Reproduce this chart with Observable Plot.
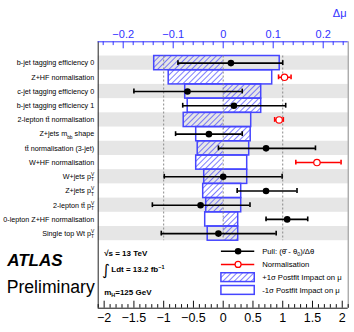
<!DOCTYPE html>
<html><head><meta charset="utf-8">
<script src="https://cdn.jsdelivr.net/npm/d3@7"></script>
<script src="https://cdn.jsdelivr.net/npm/@observablehq/plot@0.6"></script>
<style>body{margin:0;background:#fff}</style>
</head><body><div id="chart"></div>
<script>
// ---- data ----
const labels = [
  "b-jet tagging efficiency 0",
  "Z+HF normalisation",
  "c-jet tagging efficiency 0",
  "b-jet tagging efficiency 1",
  "2-lepton tt\u0304 normalisation",
  "Z+jets m_{bb} shape",
  "tt\u0304 normalisation (3-jet)",
  "W+HF normalisation",
  "W+jets p_{T}^{V}",
  "Z+jets p_{T}^{V}",
  "2-lepton tt\u0304 p_{T}^{V}",
  "0-lepton Z+HF normalisation",
  "Single top Wt p_{T}^{V}"
];
// postfit impact on mu (delta mu)
const impactPlus  = [-0.138, -0.109, 0.076, 0.076, -0.079, 0.055, -0.051, -0.054, -0.038, -0.040, -0.034, 0.030, 0.030];
const impactMinus = [ 0.113,  0.098, -0.076, -0.071, 0.056, -0.054, 0.052, 0.048, 0.048, 0.036, 0.036, -0.036, -0.031];
// pulls (black)
const pull     = [0.13, null, -0.60, 0.18, null, -0.24, 0.72, null, 0.00, 0.72, -0.38, 1.075, -0.08];
const pullLow  = [-0.76, null, -1.50, -0.68, null, -0.80, -0.08, null, -0.99, 0.235, -1.19, 0.72, -1.04];
const pullHigh = [1.00, null, 0.32, 1.05, null, 0.32, 1.55, null, 0.99, 1.24, 0.45, 1.42, 0.89];
// normalisation factors (red)
const norm     = [null, 1.03, null, null, 0.94, null, null, 1.575, null, null, null, null, null];
const normLow  = [null, 0.93, null, null, 0.865, null, null, 1.22, null, null, null, null, null];
const normHigh = [null, 1.14, null, null, 1.01, null, null, 1.98, null, null, null, null, null];

const bottomTicks = [-2, -1.5, -1, -0.5, 0, 0.5, 1, 1.5, 2];
const topTicks = [-0.2, -0.1, 0, 0.1, 0.2];
const legendText = ["Pull: (\u03b8\u0302 - \u03b8_{0})/\u0394\u03b8", "Normalisation", "+1\u03c3 Postfit Impact on \u03bc", "-1\u03c3 Postfit Impact on \u03bc"];
const infoText = ["\u221as = 13 TeV", "Ldt = 13.2 fb^{\u22121}", "m_{H}=125 GeV"];

// ---- layout ----
const W = 354, H = 332;
const mt = 41.3, mb = 24.3, ml = 97.7, mr = 6.3;
const xDom = [-2.1, 2.1];
const yDom = [-1, 17.75];
const muRange = 0.25;                  // top axis spans -0.25..0.25
const k = xDom[1] / muRange;           // delta-mu -> pull units
const pxY = (yDom[1] - yDom[0]) / (H - mt - mb);
const blue = "#3232ff";
const boxBlue = "#4646ff";
const fmt = d => (d < 0 ? "\u2212" : "") + Math.abs(d);

const rows = labels.map((label, i) => ({
  i, label, plus: impactPlus[i], minus: impactMinus[i],
  pull: pull[i], lo: pullLow[i], hi: pullHigh[i],
  norm: norm[i], nlo: normLow[i], nhi: normHigh[i]
}));
const pullRows = rows.filter(r => r.pull != null);
const normRows = rows.filter(r => r.norm != null);
const cap = 0.17;

const topMinor = d3.range(-12, 13).map(j => j * 0.02).filter(v => Math.abs(Math.round(v * 100) % 10) !== 0);
const bottomMinor = d3.range(-21, 22).map(j => j / 10).filter(v => Math.abs(Math.round(v * 10) % 5) !== 0);

const legY = [13.74, 14.67, 15.6, 16.5];
const legX1 = -0.03, legX2 = 0.53, legTx = 0.655, legBoxH = 0.31;

const chart = Plot.plot({
  width: W, height: H,
  marginTop: mt, marginBottom: mb, marginLeft: ml, marginRight: mr,
  style: {fontFamily: "'Liberation Sans', Arial, Helvetica, sans-serif", background: "#fff", overflow: "visible"},
  x: {domain: xDom, axis: null},
  y: {domain: yDom, reverse: true, axis: null},
  marks: [
    // alternating bands
    Plot.rect(rows.filter(r => r.i % 2 === 0), {x1: xDom[0], x2: xDom[1], y1: "i", y2: d => d.i + 1, fill: "#e6e6e6"}),
    // +1 sigma hatched impacts
    Plot.rect(rows, {x1: 0, x2: d => d.plus * k, y1: "i", y2: d => d.i + 1, fill: "url(#hatch)"}),
    // outline of impact boxes
    Plot.rect(rows, {x1: d => Math.min(d.plus, d.minus) * k, x2: d => Math.max(d.plus, d.minus) * k,
      y1: "i", y2: d => d.i + 1, fill: "none", stroke: boxBlue, strokeWidth: 1.5}),
    // dotted guide lines
    Plot.ruleX([-1, 0, 1], {y1: 0, y2: rows.length, stroke: "#8a8a8a", strokeDasharray: "2,2", strokeWidth: 1}),
    // pulls
    Plot.ruleY(pullRows, {x1: "lo", x2: "hi", y: d => d.i + 0.5, stroke: "black", strokeWidth: 1.6}),
    Plot.ruleX(pullRows.flatMap(d => [{x: d.lo, i: d.i}, {x: d.hi, i: d.i}]), {x: "x", y1: d => d.i + 0.5 - cap, y2: d => d.i + 0.5 + cap, stroke: "black", strokeWidth: 1.6}),
    Plot.dot(pullRows, {x: "pull", y: d => d.i + 0.5, r: 3.3, fill: "black"}),
    // normalisations
    Plot.ruleY(normRows, {x1: "nlo", x2: "nhi", y: d => d.i + 0.5, stroke: "#ff0000", strokeWidth: 1.6}),
    Plot.ruleX(normRows.flatMap(d => [{x: d.nlo, i: d.i}, {x: d.nhi, i: d.i}]), {x: "x", y1: d => d.i + 0.5 - cap, y2: d => d.i + 0.5 + cap, stroke: "#ff0000", strokeWidth: 1.6}),
    Plot.dot(normRows, {x: "norm", y: d => d.i + 0.5, r: 3.2, fill: "white", stroke: "#ff0000", strokeWidth: 1.2}),
    // row labels
    Plot.text(rows, {y: d => d.i + 0.5, text: "label", frameAnchor: "left", dx: -4, textAnchor: "end", fontSize: 7.2}),
    // frame
    Plot.ruleX([xDom[0]], {y1: yDom[0], y2: yDom[1], stroke: "#222", strokeWidth: 1}),
    Plot.ruleX([xDom[1]], {y1: yDom[0], y2: yDom[1], stroke: "#888", strokeWidth: 1}),
    Plot.ruleY([yDom[0]], {x1: xDom[0], x2: xDom[1], stroke: blue, strokeWidth: 1}),
    Plot.ruleY([yDom[1]], {x1: xDom[0], x2: xDom[1], stroke: "#111", strokeWidth: 1}),
    // top (delta mu) axis ticks
    Plot.ruleX(topTicks, {x: d => d * k, y1: yDom[0], y2: yDom[0] + 7 * pxY, stroke: blue, strokeWidth: 1}),
    Plot.ruleX(topMinor, {x: d => d * k, y1: yDom[0], y2: yDom[0] + 3.8 * pxY, stroke: blue, strokeWidth: 1}),
    Plot.text(topTicks, {x: d => d * k, text: d => d === 0 ? "0" : fmt(d), frameAnchor: "top", dy: -11.6, fill: blue, fontSize: 11}),
    Plot.text(["\u0394\u03bc"], {x: 0.233 * k, text: d => d, frameAnchor: "top", dy: -33, fill: blue, fontSize: 11}),
    // bottom axis
    Plot.ruleX(bottomTicks, {x: d => d, y1: yDom[1], y2: yDom[1] - 7 * pxY, stroke: "#111", strokeWidth: 1}),
    Plot.ruleX(bottomMinor, {x: d => d, y1: yDom[1], y2: yDom[1] - 3.6 * pxY, stroke: "#111", strokeWidth: 1}),
    Plot.text(bottomTicks, {x: d => d, text: fmt, frameAnchor: "bottom", dy: 14, fontSize: 12.5}),
    // legend (inside frame)
    Plot.ruleY([legY[0]], {x1: legX1, x2: legX2, stroke: "black", strokeWidth: 1.6}),
    Plot.dot([legY[0]], {x: (legX1 + legX2) / 2, y: d => d, r: 3.3, fill: "black"}),
    Plot.ruleY([legY[1]], {x1: legX1, x2: legX2, stroke: "#ff0000", strokeWidth: 1.6}),
    Plot.dot([legY[1]], {x: (legX1 + legX2) / 2, y: d => d, r: 3.0, fill: "white", stroke: "#ff0000", strokeWidth: 1.2}),
    Plot.rect([legY[2]], {x1: legX1, x2: legX2, y1: d => d - legBoxH, y2: d => d + legBoxH, fill: "url(#hatch)", stroke: boxBlue, strokeWidth: 1.5}),
    Plot.rect([legY[3]], {x1: legX1, x2: legX2, y1: d => d - legBoxH, y2: d => d + legBoxH, fill: "none", stroke: boxBlue, strokeWidth: 1.5}),
    Plot.text(legendText, {x: legTx, y: (d, i) => legY[i], text: d => d, textAnchor: "start", fontSize: 7.7}),
    // info text
    Plot.text([infoText[0]], {x: -2.0, y: 13.91, text: d => d, textAnchor: "start", fontSize: 8, fontWeight: "bold"}),
    Plot.text(["\u222b"], {x: -2.03, y: 15.1, text: d => d, textAnchor: "start", fontSize: 15, fontFamily: "DejaVu Sans"}),
    Plot.text([infoText[1]], {x: -1.88, y: 15.04, text: d => d, textAnchor: "start", fontSize: 8, fontWeight: "bold"}),
    Plot.text([infoText[2]], {x: -2.0, y: 16.62, text: d => d, textAnchor: "start", fontSize: 8, fontWeight: "bold"}),
    // ATLAS Preliminary
    Plot.text(["ATLAS"], {y: 14.38, text: d => d, frameAnchor: "left", dx: -91, textAnchor: "start", fontSize: 17, fontWeight: "bold", fontStyle: "italic"}),
    Plot.text(["Preliminary"], {y: 16.3, text: d => d, frameAnchor: "left", dx: -91.5, textAnchor: "start", fontSize: 17.6})
  ]
});

d3.select(chart).insert("defs", ":first-child").html(
  `<pattern id="hatch" patternUnits="userSpaceOnUse" width="4" height="4" patternTransform="rotate(45)">` +
  `<line x1="0" y1="0" x2="0" y2="4" stroke="${blue}" stroke-width="1.25"/></pattern>`);

document.getElementById("chart").appendChild(chart);

// rich text: _{sub} and ^{sup}
function richify(svg) {
  d3.select(svg).selectAll("text").each(function () {
    const el = this;
    const s = el.textContent;
    if (!/[_^]\{/.test(s)) return;
    const fs = parseFloat(getComputedStyle(el).fontSize) || 8;
    const re = /([_^])\{([^}]*)\}/g;
    const segs = []; let last = 0, m;
    while ((m = re.exec(s))) {
      if (m.index > last) segs.push({t: s.slice(last, m.index), k: 0});
      segs.push({t: m[2], k: m[1] === "_" ? 1 : -1});
      last = re.lastIndex;
    }
    if (last < s.length) segs.push({t: s.slice(last), k: 0});
    el.textContent = "";
    let cur = 0, prev = null;
    segs.forEach(seg => {
      const ts = document.createElementNS("http://www.w3.org/2000/svg", "tspan");
      const target = seg.k === 1 ? 0.32 * fs : seg.k === -1 ? -0.4 * fs : 0;
      ts.setAttribute("dy", (target - cur).toFixed(2));
      cur = target;
      if (seg.k) ts.setAttribute("font-size", (0.68 * fs).toFixed(2));
      ts.textContent = seg.t;
      el.appendChild(ts);
      if (seg.k && prev) ts.setAttribute("dx", (-prev.getComputedTextLength()).toFixed(2));
      prev = seg.k ? ts : null;
    });
  });
}
richify(chart);
</script>
</body></html>
